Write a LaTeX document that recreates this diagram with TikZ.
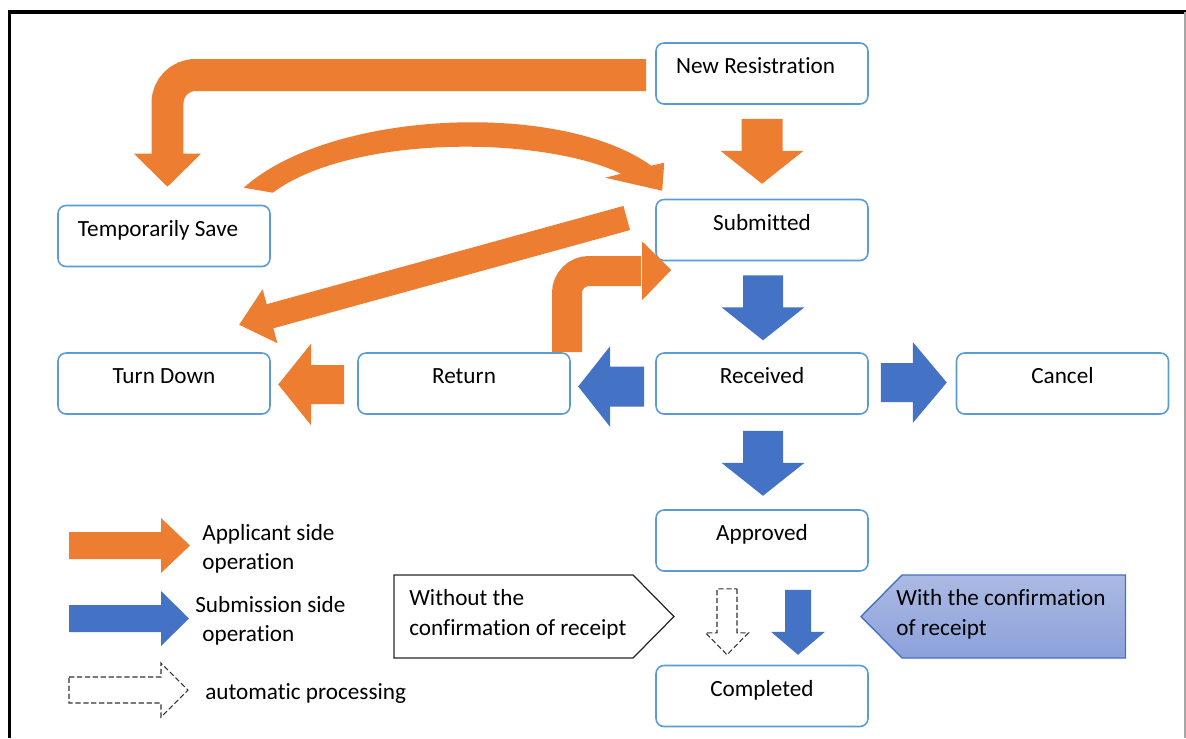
\documentclass[tikz,border=0pt]{standalone}
\usepackage{fontspec}
\setmainfont{Carlito}[Ligatures=NoCommon]
\usetikzlibrary{calc}
\definecolor{aorange}{HTML}{ED7D31}
\definecolor{ablue}{HTML}{4472C4}
\definecolor{boxline}{HTML}{5B9BD5}
\definecolor{gradtop}{HTML}{ABBAE3}
\definecolor{gradbot}{HTML}{8CA1DA}
\newcommand\bArrow[7]{%
  \begin{scope}[shift={#2},rotate=#3]
    \path[#1] (0,-#5) -- (#4-#7,-#5) -- (#4-#7,-#6) -- (#4,0) -- (#4-#7,#6) -- (#4-#7,#5) -- (0,#5) -- cycle;
  \end{scope}}
\tikzset{
  txt/.style={font=\fontsize{13.2}{16.8}\selectfont},
  stbox/.style={txt, draw=boxline, line width=0.9pt, rounded corners=0.16cm, fill=white,
    minimum width=4.24cm, minimum height=1.22cm, text height=0.3cm, text depth=0.3cm, inner sep=0pt},
  orangearrow/.style={fill=aorange},
  bluearrow/.style={fill=ablue},
  autoarrow/.style={fill=white, draw=black!80, dash pattern=on 3pt off 1.5pt, line width=0.6pt},
  band/.style={draw=aorange},
  lbl/.style={txt, inner sep=0pt, align=left, anchor=west},
}
\begin{document}
\begin{tikzpicture}[x=0.02cm, y=-0.02cm]
\useasboundingbox (0,0) rectangle (1186,738);
% frame
\draw[black, line width=0.07cm] (9.5,738) -- (9.5,12) -- (1186,12);
\draw[black!35, line width=0.04cm] (1185,12) -- (1185,738);

% state boxes
\node[stbox] (new) at (762,73.5) {New Resistration\hspace*{0.26cm}};
\node[stbox] (sub) at (762,230) {Submitted};
\node[stbox] (rec) at (762,383.5) {Received};
\node[stbox] (can) at (1062.5,383.5) {Cancel};
\node[stbox] (ret) at (464,383.5) {Return};
\node[stbox] (td) at (164,383.5) {Turn Down};
\node[stbox] (ts) at (164,236) {Temporarily Save\hspace*{0.24cm}};
\node[stbox] (app) at (762,540.5) {Approved};
\node[stbox] (comp) at (762,696) {Completed};

% bent arrow New -> Temporarily Save
\coordinate (b1s) at ($(new.west)+(-9,1.5)$);
\coordinate (h1) at ($(ts.north)+(3.5,-18)$);
\draw[band, line width=0.64cm, rounded corners=0.56cm] (b1s) -| ($(h1)+(0,-32)$);
\fill[aorange] ($(h1)+(-33.5,-33)$) -- ($(h1)+(33.5,-33)$) -- (h1) -- cycle;

% bent arrow Return -> Submitted
\coordinate (b2s) at ($(ret.north)+(103,0)$);
\coordinate (h2) at ($(sub.west)+(16,40)$);
\draw[band, line width=0.6cm, rounded corners=0.44cm] (b2s) |- ($(h2)+(-30,1)$);
\fill[aorange] ($(h2)+(-29,-28.5)$) -- (h2) -- ($(h2)+(-29,30)$) -- cycle;

% curved arrow Temporarily Save -> Submitted
\coordinate (c1) at ($(ts.north east)+(-27,-17)$);
\coordinate (c2) at ($(ts.north east)+(2,-12)$);
\coordinate (ct) at ($(sub.north west)+(7,-8)$);
\coordinate (cu) at ($(sub.north west)+(9,-36)$);
\coordinate (cl) at ($(sub.north west)+(-50,-21)$);
\coordinate (co) at ($(sub.north west)+(-4,-33)$);
\coordinate (ci) at ($(sub.north west)+(-34,-25)$);
\fill[aorange] (c1) .. controls (330,110) and (560,100) .. (co) -- (cu) -- (ct) -- (cl) -- (ci)
   .. controls (540,135) and (350,135) .. (c2) -- cycle;

% straight block arrows
\bArrow{orangearrow}{($(new.south)+(0,14)$)}{-90}{65}{20.5}{41.5}{33}
\bArrow{bluearrow}{($(sub.south)+(1,14)$)}{-90}{65}{20}{41.5}{33}
\bArrow{bluearrow}{($(rec.south)+(1,16)$)}{-90}{65}{20}{41.5}{33}
\bArrow{bluearrow}{($(rec.east)+(12,-1)$)}{0}{66}{19.5}{40.5}{34}
\bArrow{bluearrow}{($(rec.west)+(-11,3)$)}{180}{66}{20}{40.5}{32}
\bArrow{orangearrow}{($(ret.west)+(-13,1)$)}{180}{66}{19.5}{41}{33}
\bArrow{bluearrow}{($(app.south)+(36,18)$)}{-90}{65}{13}{27}{23}
\bArrow{autoarrow}{($(app.south)+(-35,17)$)}{-90}{66}{10}{21.5}{22}
\bArrow{orangearrow}{($(sub.west)+(-28.5,-12)$)}{195.4}{402}{12.5}{28}{32}

% legend
\bArrow{orangearrow}{(69,545.5)}{0}{121}{13.5}{27.5}{29}
\bArrow{bluearrow}{(69,618.5)}{0}{120}{13.5}{27.5}{28}
\bArrow{autoarrow}{(69,690)}{0}{119}{13}{27}{27}
\node[lbl] (l1) at (202,549) {Applicant side\\operation};
\node[lbl] (l2) at (195,621) {Submission side\\\hspace*{4pt}operation};
\node[lbl] (l3) at (205,693.5) {automatic processing};

% callouts
\draw[black!85, line width=0.7pt, fill=white] (394,575) -- (633,575) -- (674,616.5) -- (633,658) -- (394,658) -- cycle;
\path[draw=ablue, line width=0.8pt, top color=gradtop, bottom color=gradbot]
  (861,616.5) -- (902,575) -- (1125.5,575) -- (1125.5,658) -- (902,658) -- cycle;
\node[lbl] (wot) at (409,614.5) {Without the\\confirmation of receipt};
\node[lbl] (wit) at (896,614.5) {With the confirmation\\of receipt};
\end{tikzpicture}
\end{document}
